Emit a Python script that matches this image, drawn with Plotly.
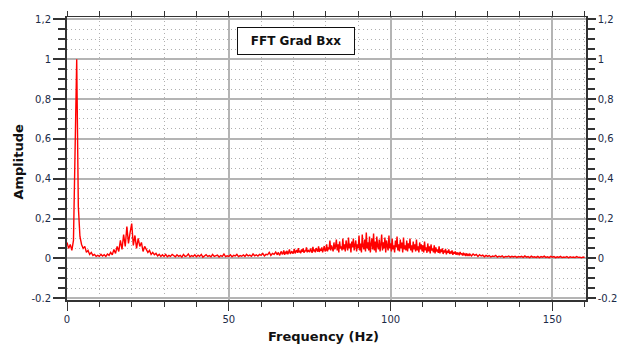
import numpy as np
import plotly.graph_objects as go

# ---- data ----
# segment A: 0 .. 64.5 Hz every 0.5 Hz
amp_0_10 = [0.08, 0.05, 0.07, 0.04, 0.09, 0.53, 1.00, 0.26, 0.11, 0.07,
            0.05, 0.06, 0.03, 0.04, 0.02, 0.03, 0.015, 0.02, 0.01, 0.015]
amp_10_20 = [0.01, 0.02, 0.012, 0.018, 0.01, 0.022, 0.015, 0.03, 0.018, 0.045,
             0.025, 0.06, 0.035, 0.09, 0.045, 0.12, 0.06, 0.16, 0.075, 0.13]
amp_20_30 = [0.175, 0.065, 0.115, 0.05, 0.1, 0.06, 0.08, 0.035, 0.06, 0.045,
             0.03, 0.04, 0.02, 0.03, 0.018, 0.025, 0.012, 0.02, 0.01, 0.018]
amp_30_40 = [0.01, 0.02, 0.008, 0.015, 0.01, 0.02, 0.012, 0.008, 0.018, 0.01,
             0.015, 0.006, 0.02, 0.01, 0.012, 0.022, 0.008, 0.014, 0.01, 0.018]
amp_40_50 = [0.008, 0.016, 0.01, 0.02, 0.006, 0.012, 0.018, 0.01, 0.014, 0.008,
             0.02, 0.01, 0.012, 0.016, 0.007, 0.014, 0.01, 0.022, 0.009, 0.013]
amp_50_60 = [0.01, 0.018, 0.008, 0.015, 0.012, 0.02, 0.009, 0.014, 0.011, 0.017,
             0.01, 0.02, 0.012, 0.016, 0.01, 0.022, 0.013, 0.018, 0.012, 0.02]
amp_60_65 = [0.015, 0.025, 0.012, 0.02, 0.018, 0.03, 0.015, 0.025, 0.02, 0.032]

# segment B: 65 .. 124.75 Hz every 0.25 Hz
amp_65_70 = [0.018, 0.03, 0.022, 0.015, 0.028, 0.035, 0.02, 0.025, 0.04, 0.018,
             0.03, 0.026, 0.038, 0.02, 0.032, 0.045, 0.022, 0.028, 0.036, 0.024]
amp_70_75 = [0.03, 0.048, 0.025, 0.035, 0.042, 0.028, 0.052, 0.03, 0.038, 0.026,
             0.045, 0.033, 0.05, 0.028, 0.04, 0.035, 0.055, 0.03, 0.042, 0.036]
amp_75_80 = [0.032, 0.05, 0.038, 0.028, 0.058, 0.035, 0.045, 0.03, 0.052, 0.04,
             0.034, 0.06, 0.032, 0.048, 0.038, 0.055, 0.03, 0.045, 0.062, 0.035]
amp_80_85 = [0.04, 0.07, 0.035, 0.055, 0.045, 0.09, 0.04, 0.065, 0.05, 0.035,
             0.08, 0.045, 0.06, 0.095, 0.04, 0.07, 0.03, 0.085, 0.05, 0.06]
amp_85_90 = [0.04, 0.1, 0.045, 0.07, 0.035, 0.09, 0.06, 0.04, 0.105, 0.05,
             0.075, 0.03, 0.085, 0.055, 0.1, 0.04, 0.065, 0.09, 0.035, 0.07]
amp_90_95 = [0.05, 0.115, 0.04, 0.075, 0.03, 0.12, 0.06, 0.045, 0.095, 0.035,
             0.13, 0.05, 0.08, 0.04, 0.11, 0.03, 0.07, 0.1, 0.045, 0.125]
amp_95_100 = [0.04, 0.085, 0.03, 0.11, 0.06, 0.045, 0.095, 0.035, 0.07, 0.12,
              0.04, 0.08, 0.05, 0.105, 0.03, 0.09, 0.06, 0.04, 0.115, 0.05]
amp_100_105 = [0.075, 0.035, 0.1, 0.045, 0.065, 0.03, 0.09, 0.055, 0.11, 0.04,
               0.07, 0.035, 0.095, 0.05, 0.08, 0.03, 0.105, 0.045, 0.065, 0.04]
amp_105_110 = [0.09, 0.035, 0.075, 0.05, 0.1, 0.04, 0.065, 0.03, 0.085, 0.045,
               0.07, 0.035, 0.095, 0.04, 0.06, 0.03, 0.08, 0.045, 0.07, 0.035]
amp_110_115 = [0.065, 0.03, 0.085, 0.04, 0.055, 0.028, 0.075, 0.035, 0.06, 0.025,
               0.07, 0.04, 0.05, 0.03, 0.065, 0.025, 0.055, 0.035, 0.045, 0.028]
amp_115_120 = [0.06, 0.025, 0.045, 0.032, 0.05, 0.022, 0.04, 0.03, 0.048, 0.02,
               0.038, 0.028, 0.045, 0.022, 0.035, 0.025, 0.04, 0.018, 0.032, 0.024]
amp_120_125 = [0.035, 0.018, 0.03, 0.022, 0.028, 0.015, 0.032, 0.02, 0.025, 0.014,
               0.028, 0.018, 0.022, 0.012, 0.025, 0.016, 0.02, 0.012, 0.022, 0.014]

# segment C: 125 .. 160 Hz every 0.5 Hz
amp_125_130 = [0.012, 0.022, 0.015, 0.02, 0.01, 0.018, 0.012, 0.016, 0.008, 0.015]
amp_130_140 = [0.01, 0.014, 0.007, 0.012, 0.009, 0.015, 0.006, 0.011, 0.008, 0.013,
               0.005, 0.01, 0.008, 0.012, 0.006, 0.01, 0.007, 0.011, 0.005, 0.009]
amp_140_150 = [0.007, 0.01, 0.005, 0.012, 0.006, 0.009, 0.004, 0.011, 0.006, 0.008,
               0.005, 0.01, 0.004, 0.009, 0.006, 0.011, 0.005, 0.008, 0.004, 0.01]
amp_150_160 = [0.006, 0.009, 0.004, 0.008, 0.005, 0.01, 0.004, 0.007, 0.005, 0.009,
               0.003, 0.008, 0.005, 0.007, 0.004, 0.009, 0.005, 0.006, 0.003, 0.007,
               0.005]

seg_a = amp_0_10 + amp_10_20 + amp_20_30 + amp_30_40 + amp_40_50 + amp_50_60 + amp_60_65
seg_b = (amp_65_70 + amp_70_75 + amp_75_80 + amp_80_85 + amp_85_90 + amp_90_95 +
         amp_95_100 + amp_100_105 + amp_105_110 + amp_110_115 + amp_115_120 + amp_120_125)
seg_c = amp_125_130 + amp_130_140 + amp_140_150 + amp_150_160

seg_starts = [0.0, 65.0, 125.0]      # Hz
seg_steps = [0.5, 0.25, 0.5]         # Hz
segments = [seg_a, seg_b, seg_c]

frequency = np.concatenate([s0 + np.arange(len(seg)) * st
                            for s0, st, seg in zip(seg_starts, seg_steps, segments)])
amplitude = seg_a + seg_b + seg_c

y_tickvals = [-0.2, 0, 0.2, 0.4, 0.6, 0.8, 1.0, 1.2]
y_ticktext = ["-0.2", "0", "0,2", "0,4", "0,6", "0,8", "1", "1,2"]
x_tickvals = [0, 50, 100, 150]
x_ticktext = ["0", "50", "100", "150"]

series_name = "FFT Grad Bxx"
x_title = "Frequency (Hz)"
y_title = "Amplitude"

X_RANGE = [0, 160.4]
Y_RANGE = [-0.209, 1.212]
AXIS_COL = "#333333"
LABEL_COL = "#1b2a47"
MAJOR_GRID = "#b4b4b4"
MINOR_GRID = "#b0b0b0"
MINOR_DASH = "1px,3px"
FONT = "DejaVu Sans"

fig = go.Figure()
fig.add_trace(go.Scatter(x=frequency, y=amplitude, mode="lines",
                         line=dict(color="#ff0000", width=1.4),
                         name=series_name, showlegend=False))
# empty trace binding the mirrored top/right axes
fig.add_trace(go.Scatter(x=[], y=[], xaxis="x2", yaxis="y2", showlegend=False))

fig.update_layout(
    width=621, height=347,
    margin=dict(l=66.7, r=35.3, t=16.7, b=47, pad=0, autoexpand=False),
    paper_bgcolor="white", plot_bgcolor="white",
    font=dict(family=FONT, size=10, color=LABEL_COL),
    xaxis=dict(range=X_RANGE, tickvals=x_tickvals, ticktext=x_ticktext,
               showline=True, linecolor=AXIS_COL, linewidth=1.5,
               ticks="outside", ticklen=9, tickwidth=1.2, tickcolor=AXIS_COL,
               showgrid=True, gridcolor=MAJOR_GRID, gridwidth=1.5, zeroline=False,
               tickfont=dict(family=FONT, size=10, color=LABEL_COL),
               minor=dict(dtick=10, tick0=0, ticks="outside", ticklen=5,
                          tickcolor=AXIS_COL, tickwidth=1.2, showgrid=True,
                          gridcolor=MINOR_GRID, griddash=MINOR_DASH, gridwidth=1)),
    yaxis=dict(range=Y_RANGE, tickvals=y_tickvals, ticktext=y_ticktext,
               showline=True, linecolor=AXIS_COL, linewidth=2,
               ticks="outside", ticklen=12, tickwidth=1.5, tickcolor=AXIS_COL,
               showgrid=True, gridcolor=MAJOR_GRID, gridwidth=1.5, zeroline=False,
               tickfont=dict(family=FONT, size=10, color=LABEL_COL),
               minor=dict(dtick=0.05, tick0=0, ticks="outside", ticklen=7,
                          tickcolor=AXIS_COL, tickwidth=1.5, showgrid=True,
                          gridcolor=MINOR_GRID, griddash=MINOR_DASH, gridwidth=1)),
    xaxis2=dict(range=X_RANGE, overlaying="x", side="top", anchor="y2",
                tickvals=list(range(0, 161, 10)), showticklabels=False,
                ticks="outside", ticklen=5, tickwidth=1.2, tickcolor=AXIS_COL,
                showline=True, linecolor=AXIS_COL, linewidth=1.2,
                showgrid=False, zeroline=False),
    yaxis2=dict(range=Y_RANGE, overlaying="y", side="right", anchor="x2",
                tickvals=y_tickvals, ticktext=y_ticktext,
                ticks="outside", ticklen=8, tickwidth=1.5, tickcolor=AXIS_COL,
                showline=True, linecolor=AXIS_COL, linewidth=1.5,
                showgrid=False, zeroline=False,
                tickfont=dict(family=FONT, size=10, color=LABEL_COL),
                minor=dict(dtick=0.05, tick0=0, ticks="outside", ticklen=7,
                           tickcolor=AXIS_COL, tickwidth=1.5, showgrid=False)),
    annotations=[
        dict(text="<b>" + series_name + "</b>", xref="paper", yref="paper",
             x=0.4418, y=0.914, xanchor="center", yanchor="middle",
             showarrow=False, font=dict(family=FONT, size=12, color="#111111"),
             bordercolor="#111111", borderwidth=1, borderpad=1,
             bgcolor="white", width=114, height=24),
        dict(text="<b>" + x_title + "</b>", xref="paper", yref="paper",
             x=0.495, y=-0.13, xanchor="center", yanchor="middle",
             showarrow=False, font=dict(family=FONT, size=13, color="#111111")),
        dict(text="<b>" + y_title + "</b>", xref="paper", yref="paper",
             x=-0.094, y=0.49, xanchor="center", yanchor="middle", textangle=-90,
             showarrow=False, font=dict(family=FONT, size=13, color="#111111")),
    ],
)

fig.write_html("out.html", config={"displayModeBar": False},
               post_script="document.body.style.margin='0';document.body.style.overflow='hidden';")
